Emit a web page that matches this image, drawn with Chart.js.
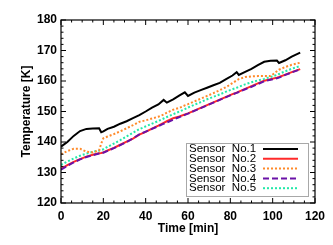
<!DOCTYPE html>
<html>
<head>
<meta charset="utf-8">
<script src="https://cdn.jsdelivr.net/npm/chart.js@4.4.0/dist/chart.umd.min.js"></script>
<style>
  html, body { margin: 0; padding: 0; background: #fff; }
  #wrap { width: 333px; height: 245px; }
</style>
</head>
<body>
<div id="wrap"><canvas id="myChart" width="333" height="245"></canvas></div>
<script>
// time axis (minutes)
var times = [0, 3, 6, 9, 12, 15, 18, 19, 20, 22, 25, 28, 31, 34, 37, 40, 43, 46, 48.5, 50,
  53, 56, 58.5, 60, 63, 66, 69, 72, 75, 78, 81, 83, 84, 87, 90, 93, 96, 99, 102, 103, 106, 109, 113];

var sensor1 = [138.5, 140, 142, 143.6, 144.3, 144.4, 144.5, 143.2, 143.5, 144.3, 145, 146, 146.8, 147.8, 148.8, 150, 151.3, 152.3, 153.8, 152.9,
  154, 155.3, 156.3, 155.1, 156.2, 157, 157.8, 158.6, 159.4, 160.6, 161.8, 162.9, 162, 163, 164, 165.2, 166.3, 166.6, 166.7, 165.9, 166.8, 168, 169.3];
var sensor2 = [131.2, 132.4, 133.5, 134.4, 135.2, 135.8, 136.3, 136.4, 136.6, 137.2, 138.1, 139.1, 140.1, 141.1, 142.4, 143.3, 144.4, 145.4, 146.3, 146.8,
  147.8, 148.4, 149, 149.4, 150.3, 151.2, 152.1, 153, 153.9, 154.8, 155.7, 156.2, 156.5, 157.4, 158.3, 159.2, 160.1, 160.6, 161.1, 161.3, 162.1, 162.9, 163.9];
var sensor3 = [136, 137, 137.8, 137.8, 136.8, 136.6, 137.2, 139.5, 141.2, 141.8, 142.6, 143.5, 144.5, 145.5, 146.6, 147.1, 147.7, 148.3, 149, 149.6,
  150.6, 151.2, 152, 152.4, 153.3, 154.2, 155.1, 156, 157, 158, 159.3, 160.2, 160.6, 161.3, 161.5, 161.6, 161.6, 161.6, 163.2, 163.7, 164.6, 165.3, 166];
var sensor4 = [130.9, 132.2, 133.3, 134.3, 135.1, 135.7, 136.2, 136.4, 136.5, 137.1, 138, 139, 140, 141.2, 142.5, 143.4, 144.3, 145.2, 146, 146.4,
  147.3, 148.2, 148.9, 149.3, 150.2, 151.1, 152, 152.9, 153.8, 154.7, 155.6, 156.1, 156.4, 157.3, 158.1, 159, 159.9, 160.4, 160.9, 161.1, 162, 162.8, 163.8];
var sensor5 = [132.5, 133.6, 134.6, 135.5, 136.2, 136.8, 137.2, 137.4, 137.6, 138.4, 139.5, 140.6, 141.8, 143, 144.2, 145.1, 146, 146.9, 147.7, 148.2,
  149.1, 150, 150.8, 151.3, 152.2, 153.1, 154, 154.8, 155.6, 156.5, 157.3, 157.8, 158.1, 158.9, 159.6, 160.2, 160.7, 161.3, 162, 162.3, 163.2, 164, 164.9];

var sensorNames = ["Sensor  No.1", "Sensor  No.2", "Sensor  No.3", "Sensor  No.4", "Sensor  No.5"];
var sensorData = [sensor1, sensor2, sensor3, sensor4, sensor5];
var colors = ['#000000', '#ff2a2a', '#ff8a2a', '#6a12a8', '#22e8a8'];
var dashes = [[], [], [2, 2], [6, 3], [2, 2]];
var orders = [1, 5, 2, 3, 4];

var xTicks = [0, 20, 40, 60, 80, 100, 120];
var yTicks = [120, 130, 140, 150, 160, 170, 180];

function toPoints(vals) {
  return vals.map(function (v, i) { return { x: times[i], y: v }; });
}

var datasets = sensorData.map(function (vals, i) {
  return {
    label: sensorNames[i],
    data: toPoints(vals),
    borderColor: colors[i],
    borderWidth: 2,
    borderDash: dashes[i],
    pointRadius: 0,
    tension: 0,
    fill: false,
    order: orders[i]
  };
});

// IDL style frame with inward major/minor ticks on all four sides
var framePlugin = {
  id: 'frame',
  afterDatasetsDraw: function (chart) {
    var c = chart.ctx, a = chart.chartArea;
    var xs = chart.scales.x, ys = chart.scales.y;
    c.save();
    c.strokeStyle = '#000';
    c.lineWidth = 1.2;
    c.setLineDash([]);
    c.strokeRect(a.left, a.top, a.right - a.left, a.bottom - a.top);
    c.lineWidth = 1;
    c.beginPath();
    for (var t = 0; t <= 120; t += 5) {
      var px = xs.getPixelForValue(t);
      var len = (t % 20 == 0) ? 5 : 2.5;
      c.moveTo(px, a.bottom); c.lineTo(px, a.bottom - len);
      c.moveTo(px, a.top); c.lineTo(px, a.top + len);
    }
    for (var v = 120; v <= 180; v += 2) {
      var py = ys.getPixelForValue(v);
      var l2 = (v % 10 == 0) ? 5 : 2.5;
      c.moveTo(a.left, py); c.lineTo(a.left + l2, py);
      c.moveTo(a.right, py); c.lineTo(a.right - l2, py);
    }
    c.stroke();
    c.restore();
  }
};

// legend box: text on the left, line sample on the right
var legendPlugin = {
  id: 'boxLegend',
  afterDraw: function (chart) {
    var c = chart.ctx;
    var x0 = 186, y0 = 143, w = 122, h = 53;
    c.save();
    c.fillStyle = '#fff';
    c.fillRect(x0, y0, w, h);
    c.strokeStyle = '#a8a8a8';
    c.lineWidth = 1;
    c.strokeRect(x0 + 0.5, y0 + 0.5, w, h);
    c.font = '11.5px "Liberation Sans", Arial, sans-serif';
    c.textBaseline = 'middle';
    c.fillStyle = '#000';
    chart.data.datasets.forEach(function (ds, i) {
      var cy = y0 + 6 + i * 9.8;
      c.fillText(ds.label, x0 + 3, cy);
      c.beginPath();
      c.strokeStyle = ds.borderColor;
      c.lineWidth = 2;
      c.setLineDash(ds.borderDash);
      c.moveTo(263, cy);
      c.lineTo(298, cy);
      c.stroke();
    });
    c.restore();
  }
};

var ctx = document.getElementById("myChart").getContext('2d');
var myChart = new Chart(ctx, {
  type: 'line',
  data: { datasets: datasets },
  options: {
    responsive: false,
    animation: false,
    layout: { padding: { top: 20, right: 18, left: 0, bottom: 0 } },
    plugins: {
      legend: { display: false },
      tooltip: { enabled: false }
    },
    scales: {
      x: {
        type: 'linear',
        min: 0,
        max: 120,
        afterBuildTicks: function (scale) {
          scale.ticks = xTicks.map(function (v) { return { value: v }; });
        },
        afterFit: function (scale) { scale.height = 42; },
        grid: { display: false, drawTicks: false },
        border: { display: false },
        ticks: {
          padding: 6,
          color: '#000',
          maxRotation: 0,
          font: { family: '"Liberation Sans", Arial, sans-serif', size: 12, weight: 'bold' }
        },
        title: {
          display: true,
          text: 'Time [min]',
          color: '#000',
          padding: { top: 0, bottom: 9 },
          font: { family: '"Liberation Sans", Arial, sans-serif', size: 12, weight: 'bold' }
        }
      },
      y: {
        min: 120,
        max: 180,
        afterBuildTicks: function (scale) {
          scale.ticks = yTicks.map(function (v) { return { value: v }; });
        },
        afterFit: function (scale) { scale.width = 61; },
        grid: { display: false, drawTicks: false },
        border: { display: false },
        ticks: {
          padding: 4,
          color: '#000',
          font: { family: '"Liberation Sans", Arial, sans-serif', size: 12, weight: 'bold' }
        },
        title: {
          display: true,
          text: 'Temperature [K]',
          color: '#000',
          padding: { top: 19, bottom: 0 },
          font: { family: '"Liberation Sans", Arial, sans-serif', size: 12, weight: 'bold' }
        }
      }
    }
  },
  plugins: [framePlugin, legendPlugin]
});
</script>
</body>
</html>
